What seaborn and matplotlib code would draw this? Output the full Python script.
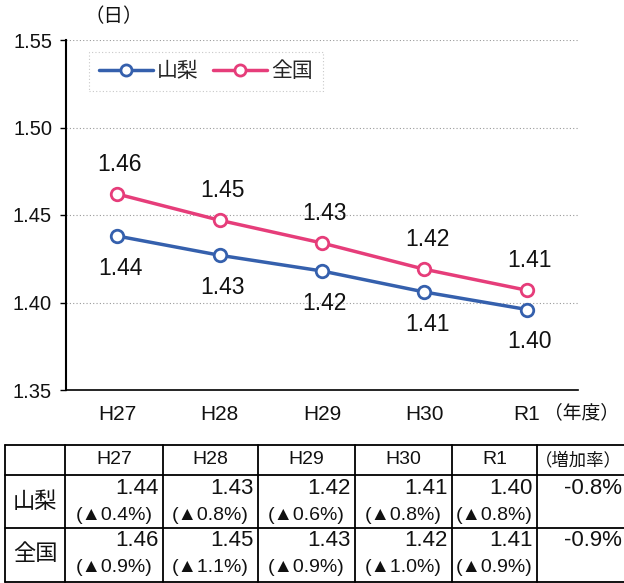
import matplotlib
matplotlib.use("Agg")
import matplotlib.pyplot as plt
import seaborn as sns
import pandas as pd
from matplotlib.lines import Line2D

sns.set_theme(style="white")
plt.rcParams['font.family'] = ['Liberation Sans', 'Noto Sans CJK JP', 'DejaVu Sans']

years = ["H27", "H28", "H29", "H30", "R1"]
yamanashi = [1.438, 1.427, 1.418, 1.406, 1.396]
zenkoku = [1.462, 1.447, 1.434, 1.419, 1.407]
series_names = ["山梨", "全国"]
colors = ["#3560ad", "#e63d7a"]

table_yam_val = ["1.44", "1.43", "1.42", "1.41", "1.40"]
table_yam_pct = ["(▲0.4%)", "(▲0.8%)", "(▲0.6%)", "(▲0.8%)", "(▲0.8%)"]
table_zen_val = ["1.46", "1.45", "1.43", "1.42", "1.41"]
table_zen_pct = ["(▲0.9%)", "(▲1.1%)", "(▲0.9%)", "(▲1.0%)", "(▲0.9%)"]
rate_header = "（増加率）"
rates = ["-0.8%", "-0.9%"]

df = pd.DataFrame({
    "year": years * 2,
    "value": yamanashi + zenkoku,
    "series": [series_names[0]] * 5 + [series_names[1]] * 5,
})

W, H = 624, 583
fig = plt.figure(figsize=(W / 100, H / 100), dpi=100)
ax = fig.add_axes([66 / W, 1 - 390 / H, (578 - 66) / W, (390 - 40) / H])

sns.lineplot(data=df, x="year", y="value", hue="series", palette=colors,
             marker="o", markersize=9, linewidth=2.5, legend=False, ax=ax, sort=False)
for ln, c in zip(ax.lines, colors):
    ln.set_markerfacecolor("white")
    ln.set_markeredgecolor(c)
    ln.set_markeredgewidth(2)
    ln.set_color(c)

ax.set_ylim(1.35, 1.55)
ax.set_yticks([1.35, 1.40, 1.45, 1.50, 1.55])
ax.set_yticklabels(["1.35", "1.40", "1.45", "1.50", "1.55"], fontsize=14.5, color="#111111")
ax.set_xlim(-0.5, 4.5)
ax.set_xticks([-0.5 + i for i in range(6)])
ax.set_xticklabels([])
ax.set_xticks(list(range(5)), minor=True)
ax.set_xticklabels(years, minor=True, fontsize=15, color="#111111")
ax.tick_params(axis="x", which="minor", length=0, pad=11)
ax.tick_params(axis="x", which="major", length=5, direction="in", color="black", width=1)
ax.tick_params(axis="y", length=4, direction="out", color="black", width=1, pad=6, left=True)
ax.set_xlabel("")
ax.set_ylabel("")
for g in [1.40, 1.45, 1.50, 1.55]:
    ax.axhline(g, color="#999999", linestyle=(0, (1, 2)), linewidth=0.8, zorder=0)
ax.spines["top"].set_visible(False)
ax.spines["right"].set_visible(False)
ax.spines["left"].set_color("black")
ax.spines["left"].set_linewidth(1.5)
ax.spines["bottom"].set_color("black")
ax.spines["bottom"].set_linewidth(1.2)

for i, v in enumerate(zenkoku):
    ax.annotate(f"{v:.2f}", (i, v), xytext=(2, 13), textcoords="offset points",
                ha="center", va="bottom", fontsize=16.5, color="#111111")
for i, v in enumerate(yamanashi):
    ax.annotate(f"{v:.2f}", (i, v), xytext=(2, -15), textcoords="offset points",
                ha="center", va="top", fontsize=16.5, color="#111111")

handles = [Line2D([], [], color=c, linewidth=2.5, marker="o", markersize=8,
                  markerfacecolor="white", markeredgecolor=c, markeredgewidth=2) for c in colors]
leg = ax.legend(handles, series_names, loc="upper left", bbox_to_anchor=(0.025, 0.995),
                ncol=2, frameon=True, fontsize=15, handlelength=2.6, columnspacing=0.7,
                handletextpad=0.2, borderpad=0.45, fancybox=False)
leg.get_frame().set_edgecolor("#bbbbbb")
leg.get_frame().set_linestyle((0, (1, 2)))
leg.get_frame().set_linewidth(0.8)

fig.text(84 / W, 1 - 17 / H, "（日）", fontsize=14, ha="left", va="center", color="#111111")
fig.text(544 / W, 1 - 413 / H, "（年度）", fontsize=13.5, ha="left", va="center", color="#111111")

# table
tax = fig.add_axes([0, 0, 1, 1], zorder=-1)
tax.set_xlim(0, W)
tax.set_ylim(H, 0)
tax.axis("off")
xs = [5, 65, 163, 258, 355, 452, 537, 624]
ys = [445, 475, 528, 582]
for y in ys:
    tax.plot([xs[0], xs[-1]], [y, y], color="black", linewidth=1.3)
for x in xs[:-1]:
    tax.plot([x, x], [ys[0], ys[-1]], color="black", linewidth=1.3)

for j, yr in enumerate(years):
    tax.text((xs[j + 1] + xs[j + 2]) / 2, 460, yr, ha="center", va="center", fontsize=14,
             color="#111111")
tax.text((xs[6] + xs[7]) / 2 - 2, 460, rate_header, ha="center", va="center", fontsize=12.5, color="#111111")

rows = [(series_names[0], table_yam_val, table_yam_pct, rates[0], 475),
        (series_names[1], table_zen_val, table_zen_pct, rates[1], 528)]
for name, vals, pcts, rate, top in rows:
    tax.text((xs[0] + xs[1]) / 2, top + 27, name, ha="center", va="center", fontsize=16, color="#111111")
    for j in range(5):
        tax.text(xs[j + 2] - 4, top + 13, vals[j], ha="right", va="center", fontsize=16, color="#111111")
        tax.text((xs[j + 1] + xs[j + 2]) / 2, top + 40, pcts[j], ha="center", va="center", fontsize=14, color="#111111")
    tax.text(622, top + 13, rate, ha="right", va="center", fontsize=16, color="#111111")

fig.savefig("out.png", dpi=100)
